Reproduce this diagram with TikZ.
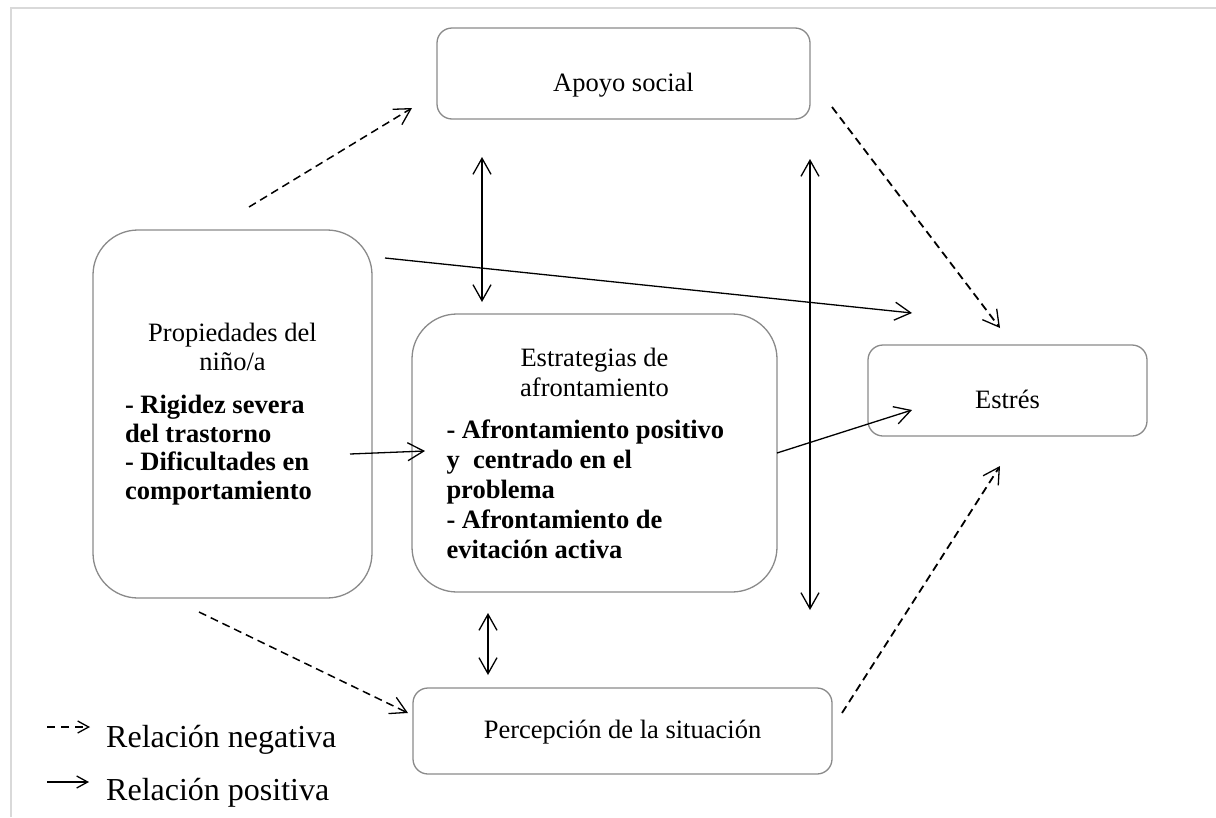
\documentclass[tikz,border=0pt]{standalone}
\usepackage{fontspec}
\setmainfont{Liberation Serif}
\usetikzlibrary{arrows.meta,calc}
\setlength{\parindent}{0pt}
\definecolor{boxgray}{RGB}{138,138,138}
\definecolor{framegray}{RGB}{217,217,217}
\begin{document}
\begin{tikzpicture}[x=1pt,y=-1pt,
  box/.style={draw=boxgray, line width=1.3pt, rounded corners=15pt, inner sep=0pt, outer sep=0pt},
  bigbox/.style={box, rounded corners=45pt},
  txt/.style={inner sep=0pt, font=\fontsize{26.5}{30}\selectfont},
  legtxt/.style={inner sep=0pt, font=\fontsize{32}{36}\selectfont},
  barb/.tip={Straight Barb[length=16pt,width=18pt,line width=1.3pt]},
  smallbarb/.tip={Straight Barb[length=11pt,width=12pt,line width=1.3pt]},
  posarrow/.style={line width=1.3pt, -barb},
  twoway/.style={line width=1.3pt, barb-barb},
  negarrow/.style={line width=1.8pt, dash pattern=on 8pt off 5pt, -barb},
]
\useasboundingbox (0,0) rectangle (1216,817);
% frame
\draw[framegray, line width=2pt] (11,817) -- (11,8.3) -- (1216,8.3);

% boxes
\node[box, minimum width=373pt, minimum height=91pt] (apoyo) at (623.5,73.5) {};
\node[txt, anchor=base] (apoyoT) at (623.5,91) {Apoyo social};

\node[box, minimum width=279pt, minimum height=91pt] (estres) at (1007.5,390.5) {};
\node[txt, anchor=base] (estresT) at (1007.5,408) {Estrés};

\node[box, minimum width=419pt, minimum height=86pt] (perc) at (622.5,731) {};
\node[txt, anchor=base] (percT) at (622.5,738) {Percepción de la situación};

\node[bigbox, minimum width=279pt, minimum height=368pt] (prop) at (232.5,414)
  {\begin{minipage}{215pt}\fontsize{26.5}{28.5}\selectfont
   \centering Propiedades del\\ niño/a\par\vspace{15pt}
   \raggedright\bfseries - Rigidez severa\\ del trastorno\\ - Dificultades en\\ comportamiento\par
   \end{minipage}};

\node[bigbox, minimum width=365pt, minimum height=278pt] (estr) at (594.5,453)
  {\begin{minipage}{296pt}\fontsize{26.5}{30}\selectfont
   \centering Estrategias de\\ afrontamiento\par\vspace{12pt}
   \raggedright\bfseries - Afrontamiento positivo\\ y\ \ centrado en el\\ problema\\ - Afrontamiento de\\ evitación activa\par
   \end{minipage}};

% connector end points
\coordinate (a1) at (249,207);   \coordinate (a2) at (412,108);
\coordinate (b1) at (832,107);   \coordinate (b2) at (1000,328);
\coordinate (c1) at (482,157);   \coordinate (c2) at (482,302);
\coordinate (d1) at (810,159);   \coordinate (d2) at (810,610);
\coordinate (e1) at (385,258);   \coordinate (e2) at (912,313);
\coordinate (f1) at (350,454);   \coordinate (f2) at (425,451);
\coordinate (g2) at (912,410);
\coordinate (h1) at (199,612);   \coordinate (h2) at (408,713);
\coordinate (i1) at (488,613);   \coordinate (i2) at (488,675);
\coordinate (j1) at (842,713);   \coordinate (j2) at (1000,466);

\draw[negarrow, line width=1.5pt] (a1) -- (a2);
\draw[negarrow] (b1) -- (b2);
\draw[twoway] (c1) -- (c2);
\draw[twoway] (d1) -- (d2);
\draw[posarrow] (e1) -- (e2);
\draw[posarrow] (f1) -- (f2);
\draw[posarrow] (estr.east) -- (g2);
\draw[negarrow, line width=1.5pt] (h1) -- (h2);
\draw[twoway] (i1) -- (i2);
\draw[negarrow] (j1) -- (j2);

% legend
\coordinate (ln1) at (47,727);  \coordinate (ln2) at (90,727);
\coordinate (lp1) at (47,782);  \coordinate (lp2) at (89,782);
\draw[line width=1.3pt, dash pattern=on 8pt off 6pt, -smallbarb] (ln1) -- (ln2);
\draw[line width=1.3pt, -smallbarb] (lp1) -- (lp2);
\node[legtxt, anchor=base west] (legneg) at (106,747) {Relación negativa};
\node[legtxt, anchor=base west] (legpos) at (106,800) {Relación positiva};
\end{tikzpicture}
\end{document}
